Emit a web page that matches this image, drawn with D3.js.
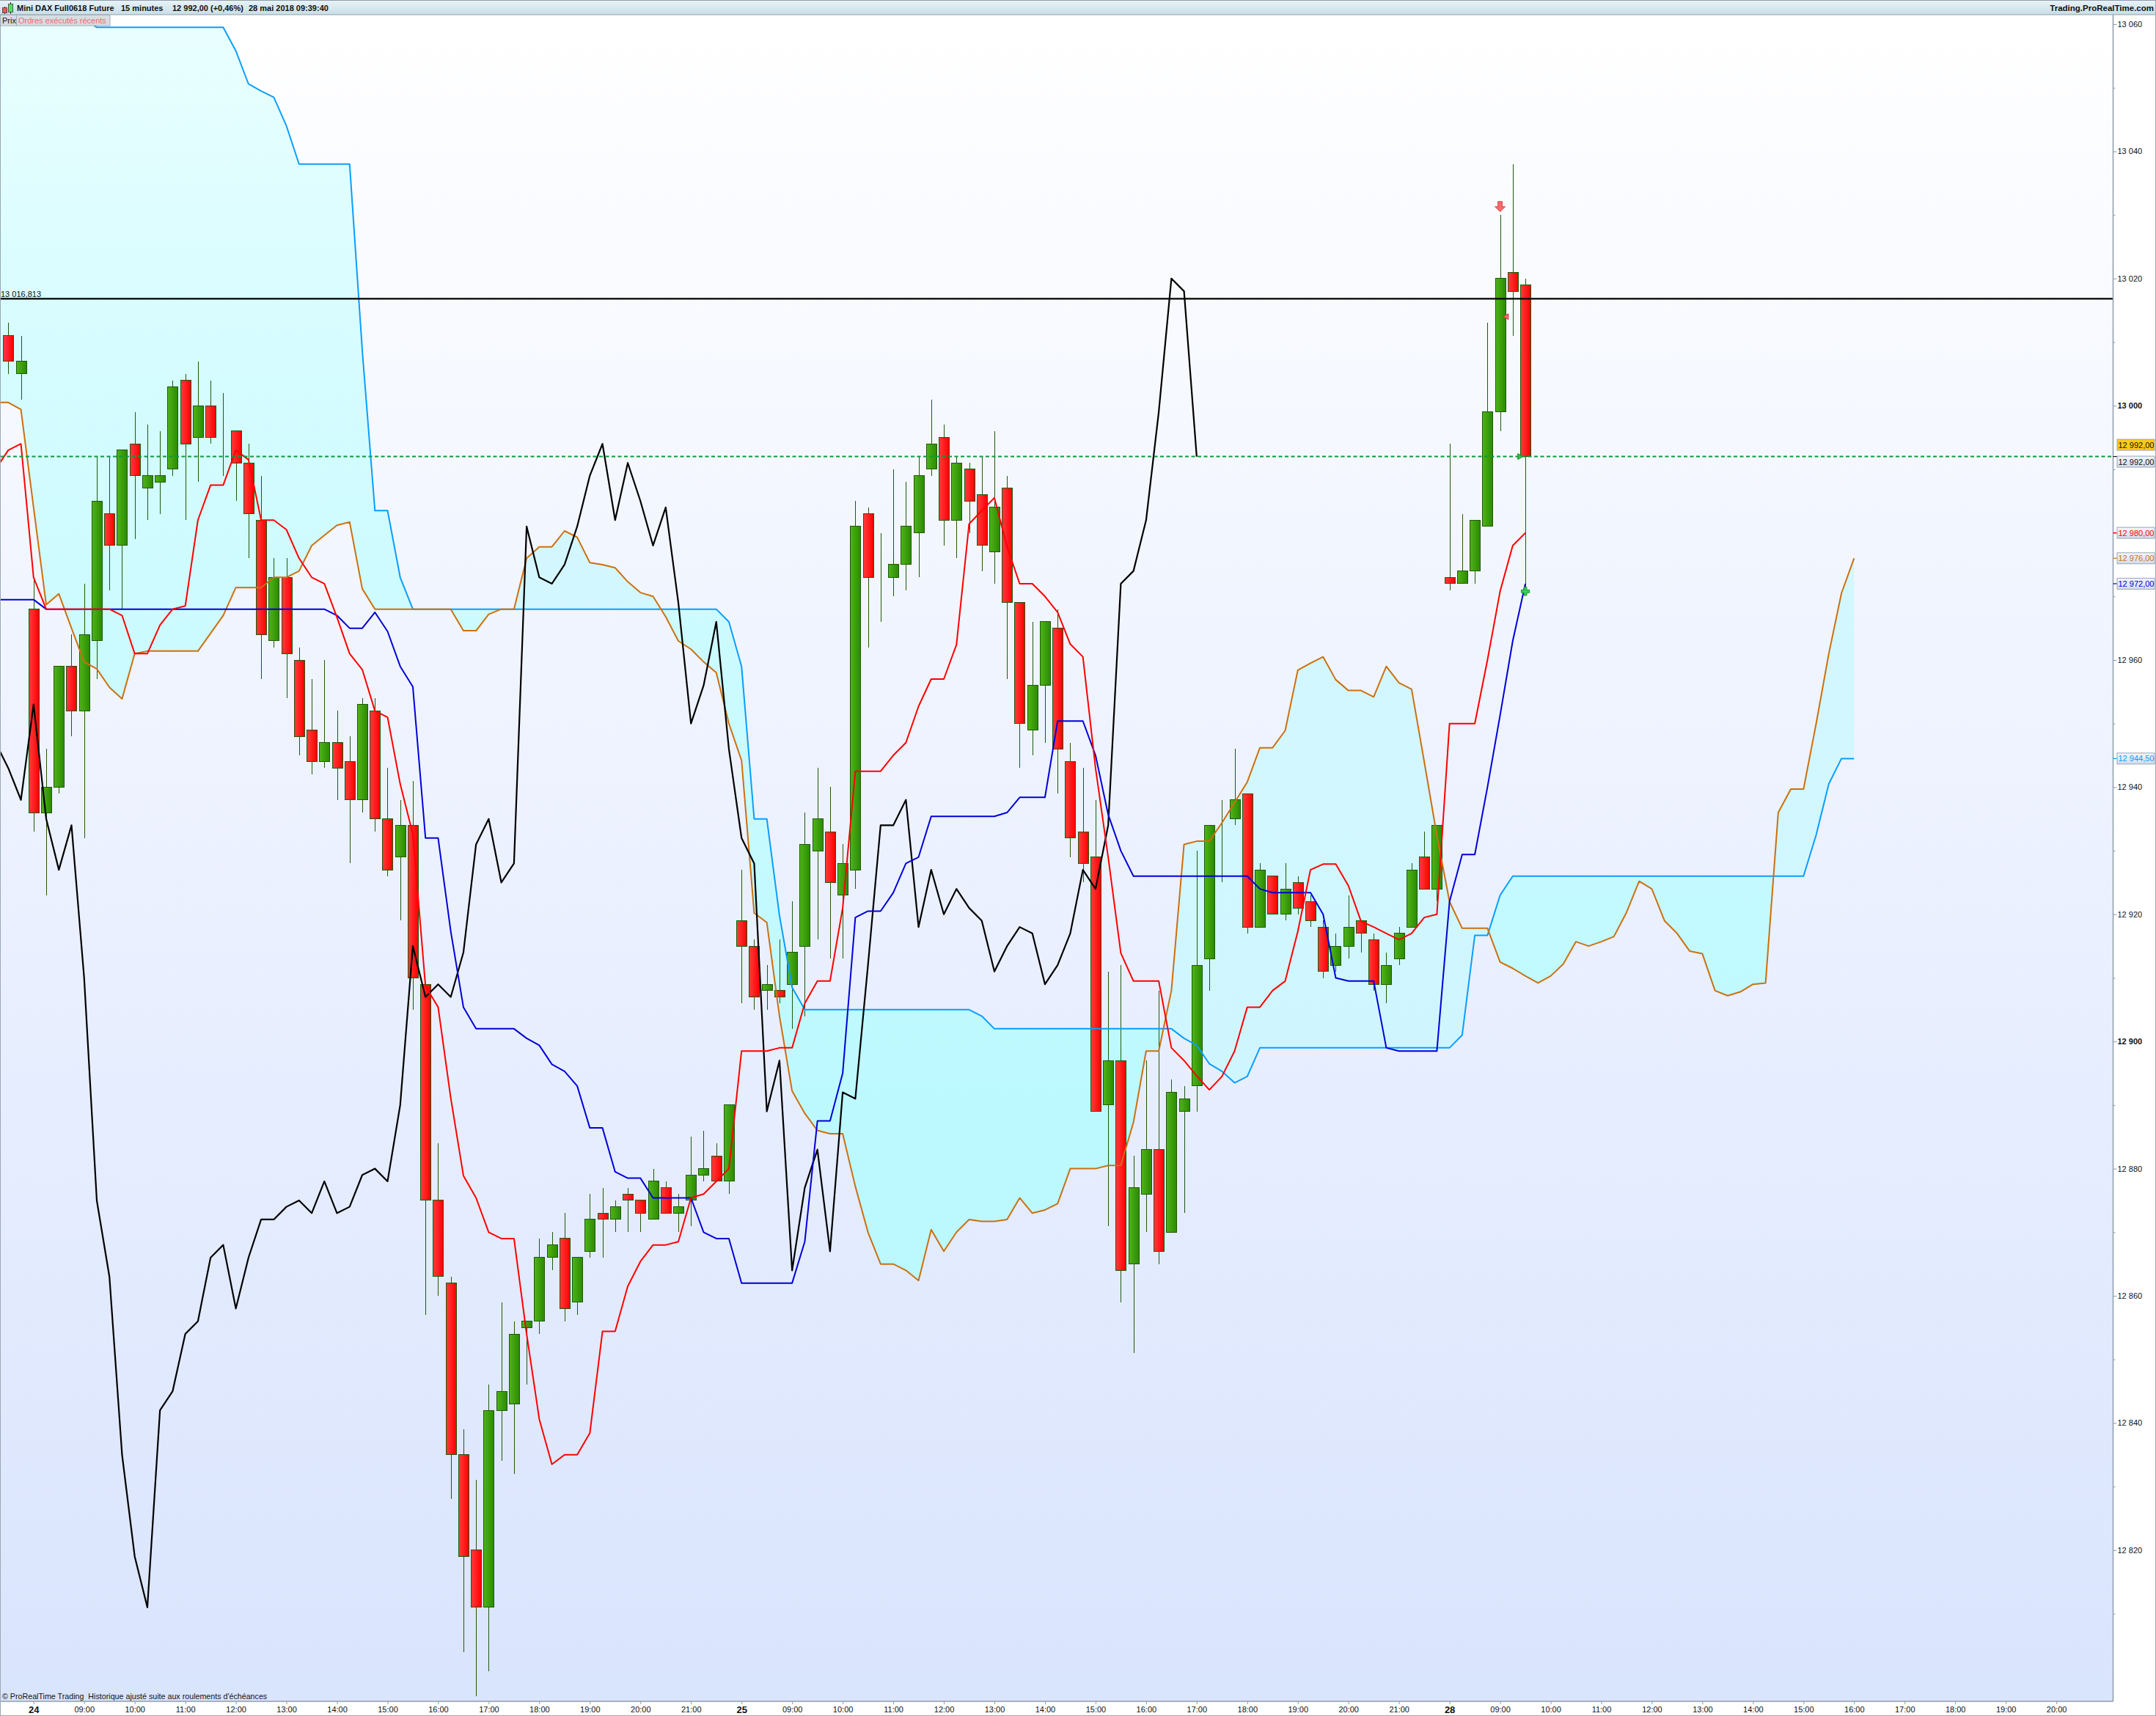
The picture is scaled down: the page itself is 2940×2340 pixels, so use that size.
<!DOCTYPE html>
<html>
<head>
<meta charset="utf-8">
<title>Mini DAX Full0618 Future</title>
<script src="https://cdn.jsdelivr.net/npm/d3@7"></script>
<style>
    html, body { margin: 0; padding: 0; background: #fff; }
    svg { display: block; font-family: "Liberation Sans", Arial, sans-serif; }
    text { white-space: pre; }
    .wick { stroke: #1f5a0c; stroke-width: 1; shape-rendering: crispEdges; }
    .body { stroke: #1f5a0c; stroke-width: 1; shape-rendering: crispEdges; }
    .ichi { fill: none; stroke-linejoin: round; }
    .axis path, .axis line { stroke: #8f9daa; }
    .axis text { font-family: "Liberation Sans", Arial, sans-serif; font-size: 11px; fill: #111; }
</style>
</head>
<body>
<svg id="chart" width="2940" height="2340"></svg>
<script>
// candles, one per 15 minutes
const opens = [13011,13005,12968,12936,12940,12959,12952,12963,12983,12978,12994,12987,12988,12990,13004,12995,13000,12995,12996,12991,
    12982,12963,12973,12960,12949,12944,12947,12944,12938,12952,12935,12929,12934,12909,12875,12862,12835,12820,12811,12842,
    12843,12855,12856,12866,12869,12859,12867,12873,12872,12876,12875,12872,12877,12873,12875,12879,12882,12878,12919,12915,
    12908,12908,12909,12915,12930,12933,12923,12927,12983,12972,12973,12975,12980,12990,12995,12982,12990,12986,12977,12987,
    12969,12949,12956,12965,12944,12933,12929,12890,12897,12865,12876,12883,12870,12889,12893,12913,12934,12935,12939,12918,
    12926,12920,12925,12922,12918,12912,12915,12919,12916,12909,12913,12918,12929,12924,12973,12972,12974,12981,12999,13021,13019];
const closes = [13007,13007,12936,12940,12959,12952,12964,12985,12978,12993,12989,12989,12989,13003,12994,13000,12995,12995,12991,12983,
    12964,12973,12961,12948,12944,12947,12943,12938,12953,12935,12927,12934,12910,12875,12863,12835,12819,12811,12842,12845,
    12854,12856,12866,12868,12858,12866,12872,12872,12874,12875,12873,12878,12873,12874,12879,12880,12878,12890,12915,12907,
    12909,12907,12914,12931,12935,12925,12928,12981,12973,12972,12975,12981,12989,12994,12982,12991,12985,12978,12984,12969,
    12950,12956,12966,12946,12932,12928,12889,12897,12864,12877,12883,12867,12892,12891,12912,12934,12934,12938,12918,12927,
    12920,12924,12921,12919,12911,12915,12918,12917,12909,12912,12917,12927,12924,12934,12972,12974,12982,12999,13020,13018,12992];
const highs = [13013,13011,12973,12946,12959,12964,12972,12992,12992,12993,12999,12997,12996,13004,13005,13007,13004,13002,12996,12994,
    12989,12976,12976,12962,12957,12960,12952,12948,12954,12954,12943,12938,12941,12909,12884,12863,12839,12831,12846,12859,
    12856,12856,12869,12870,12873,12866,12876,12877,12875,12877,12875,12880,12878,12876,12885,12886,12884,12890,12927,12916,
    12912,12916,12922,12936,12943,12940,12931,12985,12984,12980,12990,12988,12992,13001,12997,12992,12991,12992,12996,12989,
    12969,12966,12966,12968,12947,12943,12938,12911,12912,12882,12897,12908,12894,12893,12930,12934,12938,12946,12939,12928,
    12926,12928,12926,12923,12919,12917,12923,12919,12917,12914,12918,12928,12933,12934,12994,12983,12982,13013,13030,13038,13020];
const lows = [13005,13001,12933,12923,12939,12948,12932,12957,12971,12968,12979,12982,12983,12989,12982,12988,12994,12989,12985,12976,
    12957,12962,12954,12945,12942,12943,12938,12928,12936,12933,12926,12919,12905,12857,12860,12828,12804,12797,12801,12834,
    12832,12846,12854,12864,12856,12857,12866,12866,12870,12870,12870,12872,12873,12870,12871,12878,12878,12876,12906,12905,
    12905,12906,12902,12904,12916,12913,12913,12924,12962,12966,12970,12971,12973,12989,12978,12976,12980,12974,12972,12957,
    12943,12945,12947,12939,12929,12925,12889,12871,12859,12851,12870,12865,12870,12873,12889,12908,12925,12934,12917,12918,
    12920,12919,12920,12918,12910,12911,12913,12914,12908,12906,12912,12924,12924,12922,12971,12972,12972,12981,12996,13011,12971];

// ichimoku lines, first value sits one bar before the first candle
const tenkan = [12990,12993,12994,12973,12968,12968,12968,12968,12968,12968,12967,12961,12961,12965.5,12968,12968.5,12982,12987.5,12987.5,12993,
    12991.5,12982,12982,12980.5,12976,12973,12972,12966.7,12961,12958.5,12952,12951,12940.5,12932.6,12908.7,12905.4,12891.1,12878.9,12875.4,12870,
    12869,12869,12854,12840.6,12833.5,12835,12835,12838.4,12854.4,12854.4,12861.5,12865.4,12868,12868,12868.5,12875.4,12876,12878,12880,12898.5,
    12898.5,12898.5,12899,12899,12906,12909.5,12909.5,12921,12942.5,12942.5,12942.5,12945,12947,12952.7,12957,12957,12962.4,12981.4,12983.5,12985.5,
    12977.8,12972,12972,12970,12967.5,12962.5,12960.5,12943,12929,12913.9,12909.5,12909.5,12909.5,12899,12897,12894.6,12892.4,12894.5,12898.5,12905.4,
    12905.4,12908,12909.5,12917.3,12927,12927.9,12927.9,12924.5,12918.9,12918,12917,12916,12917,12919.5,12920,12950,12950,12950,12960,12970.8,12978,12980];
const kijun = [12969.5,12969.5,12969.5,12969.5,12968,12968,12968,12968,12968,12968,12968,12968,12968,12968,12968,12968,12968,12968,12968,12968,
    12968,12968,12968,12968,12968,12968,12968,12967,12965,12965,12967.5,12964.5,12959,12955.8,12932,12932,12917.3,12905.4,12902,12902,
    12902,12902,12900.5,12899.4,12896.4,12895.3,12893,12886.4,12886.4,12879.5,12878.5,12878.5,12875.4,12875.4,12875.4,12875.4,12870,12869,12869,12862,
    12862,12862,12862,12862,12868.5,12887.5,12887.5,12895,12919.5,12920.5,12920.5,12923.4,12928,12929,12935.4,12935.4,12935.4,12935.4,12935.4,12935.4,
    12936,12938.4,12938.4,12938.4,12950.4,12950.4,12950.4,12945,12935.7,12930,12926,12926,12926,12926,12926,12926,12926,12926,12926,12926,
    12924,12923.4,12923.4,12923.4,12923.4,12920,12910,12909.5,12909.5,12909.5,12899,12898.5,12898.5,12898.5,12898.5,12922,12929.4,12929.4,12940,12951.3,12963,12972];
const chikou = [12947,12943,12938,12953,12935,12927,12934,12910,12875,12863,12835,12819,12811,12842,12845,12854,12856,12866,12868,12858,
    12866,12872,12872,12874,12875,12873,12878,12873,12874,12879,12880,12878,12890,12915,12907,12909,12907,12914,12931,12935,
    12925,12928,12981,12973,12972,12975,12981,12989,12994,12982,12991,12985,12978,12984,12969,12950,12956,12966,12946,12932,
    12928,12889,12897,12864,12877,12883,12867,12892,12891,12912,12934,12934,12938,12918,12927,12920,12924,12921,12919,12911,
    12915,12918,12917,12909,12912,12917,12927,12924,12934,12972,12974,12982,12999,13020,13018,12992];
const spanA = [13000.5,13000.5,12999.4,12984,12968.7,12970.4,12965,12959.7,12958.6,12955.7,12953.9,12961,12961.4,12961.4,12961.4,12961.4,12961.4,12964.2,12967,12971.4,
    12971.4,12971.4,12973,12973,12974,12978,12979.6,12981.2,12981.7,12971.2,12968,12968,12968,12968,12968,12968,12968,12964.6,12964.6,12967.2,
    12968,12968,12976,12977.8,12977.8,12980.3,12979.3,12975.3,12975,12974.5,12972.3,12970.6,12970,12966.8,12963,12961.7,12959.7,12958,12950,12944.2,
    12920.2,12918.7,12904,12892.2,12888.7,12886,12885.5,12885.5,12877.2,12870,12865,12865,12864,12862.4,12870.4,12867,12870,12872,12871.7,12871.7,
    12872,12875.4,12873,12873.5,12874.5,12880,12880,12880,12880.5,12880.5,12887.3,12898.5,12898.5,12908,12931,12931.5,12931.5,12934.4,12937.6,12940.8,
    12946.2,12946.2,12948.9,12958.4,12959.5,12960.5,12956.9,12955.2,12955.2,12954.2,12959,12956.4,12955.4,12944,12932.4,12922,12917.8,12917.8,12917.8,12912.5,
    12911.5,12910.3,12909.2,12910.3,12912.2,12915.7,12915,12915.7,12916.5,12920.3,12925.2,12924,12919,12917,12914.2,12913.8,12908,12907.2,12907.8,12909,
    12909.2,12936,12939.7,12939.7,12950,12961,12970.5,12976];
const spanB = [13075,13075,13075,13075,13075,13075,13075,13061,13059.5,13059.5,13059.5,13059.5,13059.5,13059.5,13059.5,13059.5,13059.5,13059.5,13059.5,13055.8,
    13050.6,13049.5,13048.5,13044,13038,13038,13038,13038,13038,13008.7,12983.5,12983.5,12973,12968,12968,12968,12968,12968,12968,12968,
    12968,12968,12968,12968,12968,12968,12968,12968,12968,12968,12968,12968,12968,12968,12968,12968,12968,12968,12966,12959,
    12935,12935,12919.8,12908.5,12905,12905,12905,12905,12905,12905,12905,12905,12905,12905,12905,12905,12905,12905,12904,12902,
    12902,12902,12902,12902,12902,12902,12902,12902,12902,12902,12902,12902,12902,12902,12900.5,12899.4,12896.5,12895.3,12893.5,12894.5,
    12899,12899,12899,12899,12899,12899,12899,12899,12899,12899,12899,12899,12899,12899,12899,12899,12901,12916.7,12916.7,12923,
    12926,12926,12926,12926,12926,12926,12926,12926,12926,12926,12926,12926,12926,12926,12926,12926,12926,12926,12926,12926,
    12926,12926,12926,12926,12932.5,12940.5,12944.5,12944.5];

// axis labels
const priceTicks = [13060,13040,13020,13000,12980,12960,12940,12920,12900,12880,12860,12840,12820];
const priceMinor = [13050,13030,13010,12990,12970,12950,12930,12910,12890,12870,12850,12830,12810];
const timeLabels = ["24","09:00","10:00","11:00","12:00","13:00","14:00","15:00","16:00","17:00","18:00","19:00","20:00","21:00",
    "25","09:00","10:00","11:00","12:00","13:00","14:00","15:00","16:00","17:00","18:00","19:00","20:00","21:00",
    "28","09:00","10:00","11:00","12:00","13:00","14:00","15:00","16:00","17:00","18:00","19:00","20:00"];
const timeIndex = timeLabels.map((d, i) => 2 + i * 4);

// last values shown in the right column
const lastLabels = [
    { value: 12992, text: "12 992,00", color: "#111111", dy: 7, line: "#111111" },
    { value: 12980, text: "12 980,00", color: "#ff0000", dy: 0, line: "#ff0000" },
    { value: 12976, text: "12 976,00", color: "#cc7010", dy: 0, line: "#cc7010" },
    { value: 12972, text: "12 972,00", color: "#0000e0", dy: 0, line: "#0000e0" },
    { value: 12944.5, text: "12 944,50", color: "#0a9eff", dy: 0, line: "#0a9eff" }
];
const currentPrice = 12992;
const levelPrice = 13016.813;

const svg = d3.select("svg#chart");
const width = 2940, height = 2340;
const plot = { left: 1, right: 2881.5, top: 20, bottom: 2320 };

// SCALES
const x = d3.scaleLinear().domain([0, 146]).range([11.3, 2528.3]);
const y = d3.scaleLinear().domain([12820, 13060]).range([2113.8, 33]);

// DEFS
const defs = svg.append("defs");
function gradient(id, horizontal, stops, user) {
    const g = defs.append("linearGradient").attr("id", id)
        .attr("x1", 0).attr("y1", 0)
        .attr("x2", horizontal ? 1 : 0).attr("y2", horizontal ? 0 : 1);
    if (user) {
        g.attr("gradientUnits", "userSpaceOnUse")
            .attr("y1", plot.top).attr("x2", 0).attr("y2", plot.bottom);
    }
    stops.forEach(s => g.append("stop").attr("offset", s[0]).attr("stop-color", s[1]));
}
gradient("bg", false, [[0, "#ffffff"], [0.35, "#f1f5ff"], [1, "#d9e4fd"]]);
gradient("head", false, [[0, "#e9f4f8"], [1, "#c9dee7"]]);
gradient("box", false, [[0, "#f4f6fa"], [1, "#d3dcea"]]);
gradient("upBody", true, [[0, "#4fb41a"], [1, "#2b8a00"]]);
gradient("downBody", true, [[0, "#ff3c3c"], [1, "#ff0000"]]);
gradient("cloudDown", false, [[0, "#eaffff"], [0.2, "#d6fcff"], [0.65, "#bcf9ff"], [1, "#b8f8ff"]], true);
gradient("cloudUp", false, [[0, "#d8f8ff"], [0.6, "#cff6ff"], [1, "#cff6ff"]], true);

defs.append("clipPath").attr("id", "plotClip").append("rect")
    .attr("x", plot.left).attr("y", plot.top)
    .attr("width", plot.right - plot.left).attr("height", plot.bottom - plot.top);

// BACKGROUND
svg.append("rect").attr("width", width).attr("height", height).attr("fill", "#fff");
svg.append("rect").attr("x", plot.left).attr("y", plot.top)
    .attr("width", plot.right - plot.left).attr("height", plot.bottom - plot.top)
    .attr("fill", "url(#bg)");

const chart = svg.append("g").attr("clip-path", "url(#plotClip)");

// CLOUD, same shape split on span A so each side gets its colour
const cloudIdx = d3.range(spanA.length);
const cloudX = i => x(i - 1);
const cloud = d3.area().x(cloudX).y0(i => y(spanA[i])).y1(i => y(spanB[i]));
defs.append("clipPath").attr("id", "aboveA").append("path")
    .attr("d", d3.area().x(cloudX).y0(0).y1(i => y(spanA[i]))(cloudIdx));
defs.append("clipPath").attr("id", "belowA").append("path")
    .attr("d", d3.area().x(cloudX).y0(height).y1(i => y(spanA[i]))(cloudIdx));
chart.append("path").attr("d", cloud(cloudIdx)).attr("fill", "url(#cloudDown)").attr("clip-path", "url(#aboveA)");
chart.append("path").attr("d", cloud(cloudIdx)).attr("fill", "url(#cloudUp)").attr("clip-path", "url(#belowA)");

// CANDLES
const bars = chart.append("g").selectAll("g").data(opens).join("g");
bars.append("line").attr("class", "wick")
    .attr("x1", (d, i) => Math.round(x(i)) + 0.5).attr("x2", (d, i) => Math.round(x(i)) + 0.5)
    .attr("y1", (d, i) => y(highs[i])).attr("y2", (d, i) => y(lows[i]));
bars.append("rect").attr("class", "body")
    .attr("x", (d, i) => Math.round(x(i)) - 6.5)
    .attr("width", 14)
    .attr("y", (d, i) => y(Math.max(opens[i], closes[i])))
    .attr("height", (d, i) => Math.abs(y(opens[i]) - y(closes[i])))
    .attr("fill", (d, i) => closes[i] >= opens[i] ? "url(#upBody)" : "url(#downBody)");

// LINES
const lineFrom = values => d3.line().x((d, i) => x(i - 1)).y(d => y(d))(values);
const series = [
    { values: spanB, color: "#0a9eff", w: 2 },
    { values: spanA, color: "#cc7010", w: 2 },
    { values: chikou, color: "#000000", w: 2.2 },
    { values: kijun, color: "#0000d8", w: 2 },
    { values: tenkan, color: "#ff0000", w: 2 }
];
series.forEach(s => {
    chart.append("path").attr("class", "ichi")
        .attr("d", lineFrom(s.values))
        .attr("stroke", s.color).attr("stroke-width", s.w);
});

// HORIZONTAL LEVELS
chart.append("line").attr("x1", plot.left).attr("x2", plot.right)
    .attr("y1", y(currentPrice)).attr("y2", y(currentPrice))
    .attr("stroke", "#0b9a3c").attr("stroke-width", 2).attr("stroke-dasharray", "5,3.5");
chart.append("line").attr("x1", plot.left).attr("x2", plot.right)
    .attr("y1", y(levelPrice)).attr("y2", y(levelPrice))
    .attr("stroke", "#000").attr("stroke-width", 2.2);
chart.append("text").attr("x", 1).attr("y", y(levelPrice) - 2.5)
    .attr("font-size", 11).attr("fill", "#111").text("13 016,813");

// ORDER MARKERS
const markers = chart.append("g");
markers.append("path")
    .attr("d", "M-3,-7 L3,-7 L3,0 L7,0 L0,7 L-7,0 L-3,0 Z")
    .attr("transform", `translate(${x(118)},${y(13031.3)})`)
    .attr("fill", "#f46a6a").attr("stroke", "#d84848");
markers.append("path")
    .attr("d", d3.symbol(d3.symbolTriangle, 28)())
    .attr("transform", `translate(${x(118) + 9},${y(13014)}) rotate(-90)`)
    .attr("fill", "#f46a6a").attr("stroke", "#c83c3c");
markers.append("path")
    .attr("d", d3.symbol(d3.symbolTriangle, 28)())
    .attr("transform", `translate(${x(120) - 8},${y(currentPrice)}) rotate(90)`)
    .attr("fill", "#38c048").attr("stroke", "#0a8a20");
markers.append("path")
    .attr("d", d3.symbol(d3.symbolCross, 70)())
    .attr("transform", `translate(${x(120)},${y(12970.8)})`)
    .attr("fill", "#3ccc50").attr("stroke", "#109a30");

// AXIS
const fmt = d => d3.format("d")(d).replace(/(\d{2})(\d{3})$/, "$1 $2");
const yAxis = svg.append("g").attr("class", "axis")
    .attr("transform", `translate(${plot.right},0)`)
    .call(d3.axisRight(y).tickValues(priceTicks).tickFormat(fmt).tickSize(5).tickPadding(1));
yAxis.select(".domain").attr("d", `M0,${plot.top}V${plot.bottom}`).attr("stroke-width", 1.5);
yAxis.selectAll("text").attr("font-weight", d => d % 100 === 0 ? "bold" : "normal");
svg.append("g").attr("class", "axis")
    .attr("transform", `translate(${plot.right},0)`)
    .call(d3.axisRight(y).tickValues(priceMinor).tickFormat("").tickSize(3))
    .select(".domain").remove();

const xAxis = svg.append("g").attr("class", "axis")
    .attr("transform", `translate(0,${plot.bottom})`)
    .call(d3.axisBottom(x).tickValues(timeIndex).tickFormat((d, i) => timeLabels[i]).tickSize(4).tickPadding(3));
xAxis.select(".domain").attr("d", `M0,0H${plot.right}`).attr("stroke-width", 1.5);
xAxis.selectAll("text")
    .attr("font-weight", d => timeLabels[timeIndex.indexOf(d)].includes(":") ? "normal" : "bold")
    .style("font-size", d => timeLabels[timeIndex.indexOf(d)].includes(":") ? "11px" : "13px");

// RIGHT COLUMN LABELS
const boxX = 2887, boxW = 51, boxH = 15;
const labels = svg.append("g").selectAll("g").data(lastLabels).join("g")
    .attr("transform", d => `translate(0,${y(d.value) + d.dy})`);
labels.append("line").attr("x1", plot.right).attr("x2", boxX)
    .attr("y1", d => -d.dy).attr("y2", d => -d.dy)
    .attr("stroke", d => d.line).attr("stroke-width", 1.2);
labels.append("rect").attr("x", boxX).attr("y", -boxH / 2).attr("width", boxW).attr("height", boxH)
    .attr("fill", "url(#box)").attr("stroke", "#97a6b4");
labels.append("text").attr("x", boxX + 1.5).attr("y", 4).attr("font-size", 11)
    .attr("fill", d => d.color).text(d => d.text);

svg.append("rect").attr("x", boxX).attr("y", y(currentPrice) - 23.5).attr("width", boxW).attr("height", boxH)
    .attr("fill", "#fccb14").attr("stroke", "#97a6b4");
svg.append("text").attr("x", boxX + 1.5).attr("y", y(currentPrice) - 12).attr("font-size", 11)
    .attr("fill", "#111").text("12 992,00");

// HEADER
svg.append("rect").attr("width", width).attr("height", 20).attr("fill", "url(#head)");
svg.append("line").attr("x1", 0).attr("x2", width).attr("y1", 0.5).attr("y2", 0.5).attr("stroke", "#8f9daa");
svg.append("line").attr("x1", 0).attr("x2", width).attr("y1", 20).attr("y2", 20).attr("stroke", "#8f9daa").attr("stroke-width", 1.2);
const icon = svg.append("g");
icon.append("line").attr("x1", 6.5).attr("x2", 6.5).attr("y1", 9).attr("y2", 19).attr("stroke", "#222");
icon.append("rect").attr("x", 3.5).attr("y", 10.5).attr("width", 6).attr("height", 7).attr("fill", "#e85858").attr("stroke", "#555");
icon.append("line").attr("x1", 14.5).attr("x2", 14.5).attr("y1", 3).attr("y2", 19).attr("stroke", "#222");
icon.append("rect").attr("x", 11.5).attr("y", 5.5).attr("width", 6).attr("height", 11).attr("fill", "#50e060").attr("stroke", "#555");
const headerBits = [
    { x: 23, text: "Mini DAX Full0618 Future" },
    { x: 165, text: "15 minutes" },
    { x: 235, text: "12 992,00 (+0,46%)" },
    { x: 339, text: "28 mai 2018 09:39:40" }
];
svg.append("g").selectAll("text").data(headerBits).join("text")
    .attr("x", d => d.x).attr("y", 15).attr("font-size", 11).attr("font-weight", "bold")
    .attr("fill", "#111").text(d => d.text);
svg.append("text").attr("x", 2937).attr("y", 15).attr("text-anchor", "end")
    .attr("font-size", 11.5).attr("font-weight", "bold").attr("fill", "#111").text("Trading.ProRealTime.com");

// LEGEND TABS
svg.append("rect").attr("x", 0).attr("y", 20.5).attr("width", 150).attr("height", 14.5)
    .attr("fill", "#d7dde2").attr("stroke", "#a3aeb8");
svg.append("line").attr("x1", 22.5).attr("x2", 22.5).attr("y1", 21).attr("y2", 35).attr("stroke", "#a3aeb8");
svg.append("text").attr("x", 3).attr("y", 32).attr("font-size", 11).attr("fill", "#111").text("Prix");
svg.append("text").attr("x", 25).attr("y", 32).attr("font-size", 11).attr("fill", "#f06a70").text("Ordres exécutés récents");

// FOOTER NOTE
svg.append("text").attr("x", 3).attr("y", 2317).attr("font-size", 10.7).attr("fill", "#111")
    .text("© ProRealTime Trading  Historique ajusté suite aux roulements d'échéances");

// FRAME
svg.append("line").attr("x1", 0.5).attr("x2", 0.5).attr("y1", 20).attr("y2", 2340).attr("stroke", "#9aa8b5");
svg.append("line").attr("x1", 2939.5).attr("x2", 2939.5).attr("y1", 0).attr("y2", 2340).attr("stroke", "#9aa8b5");
svg.append("line").attr("x1", 0).attr("x2", width).attr("y1", 2339.5).attr("y2", 2339.5).attr("stroke", "#9aa8b5");
</script>
</body>
</html>
